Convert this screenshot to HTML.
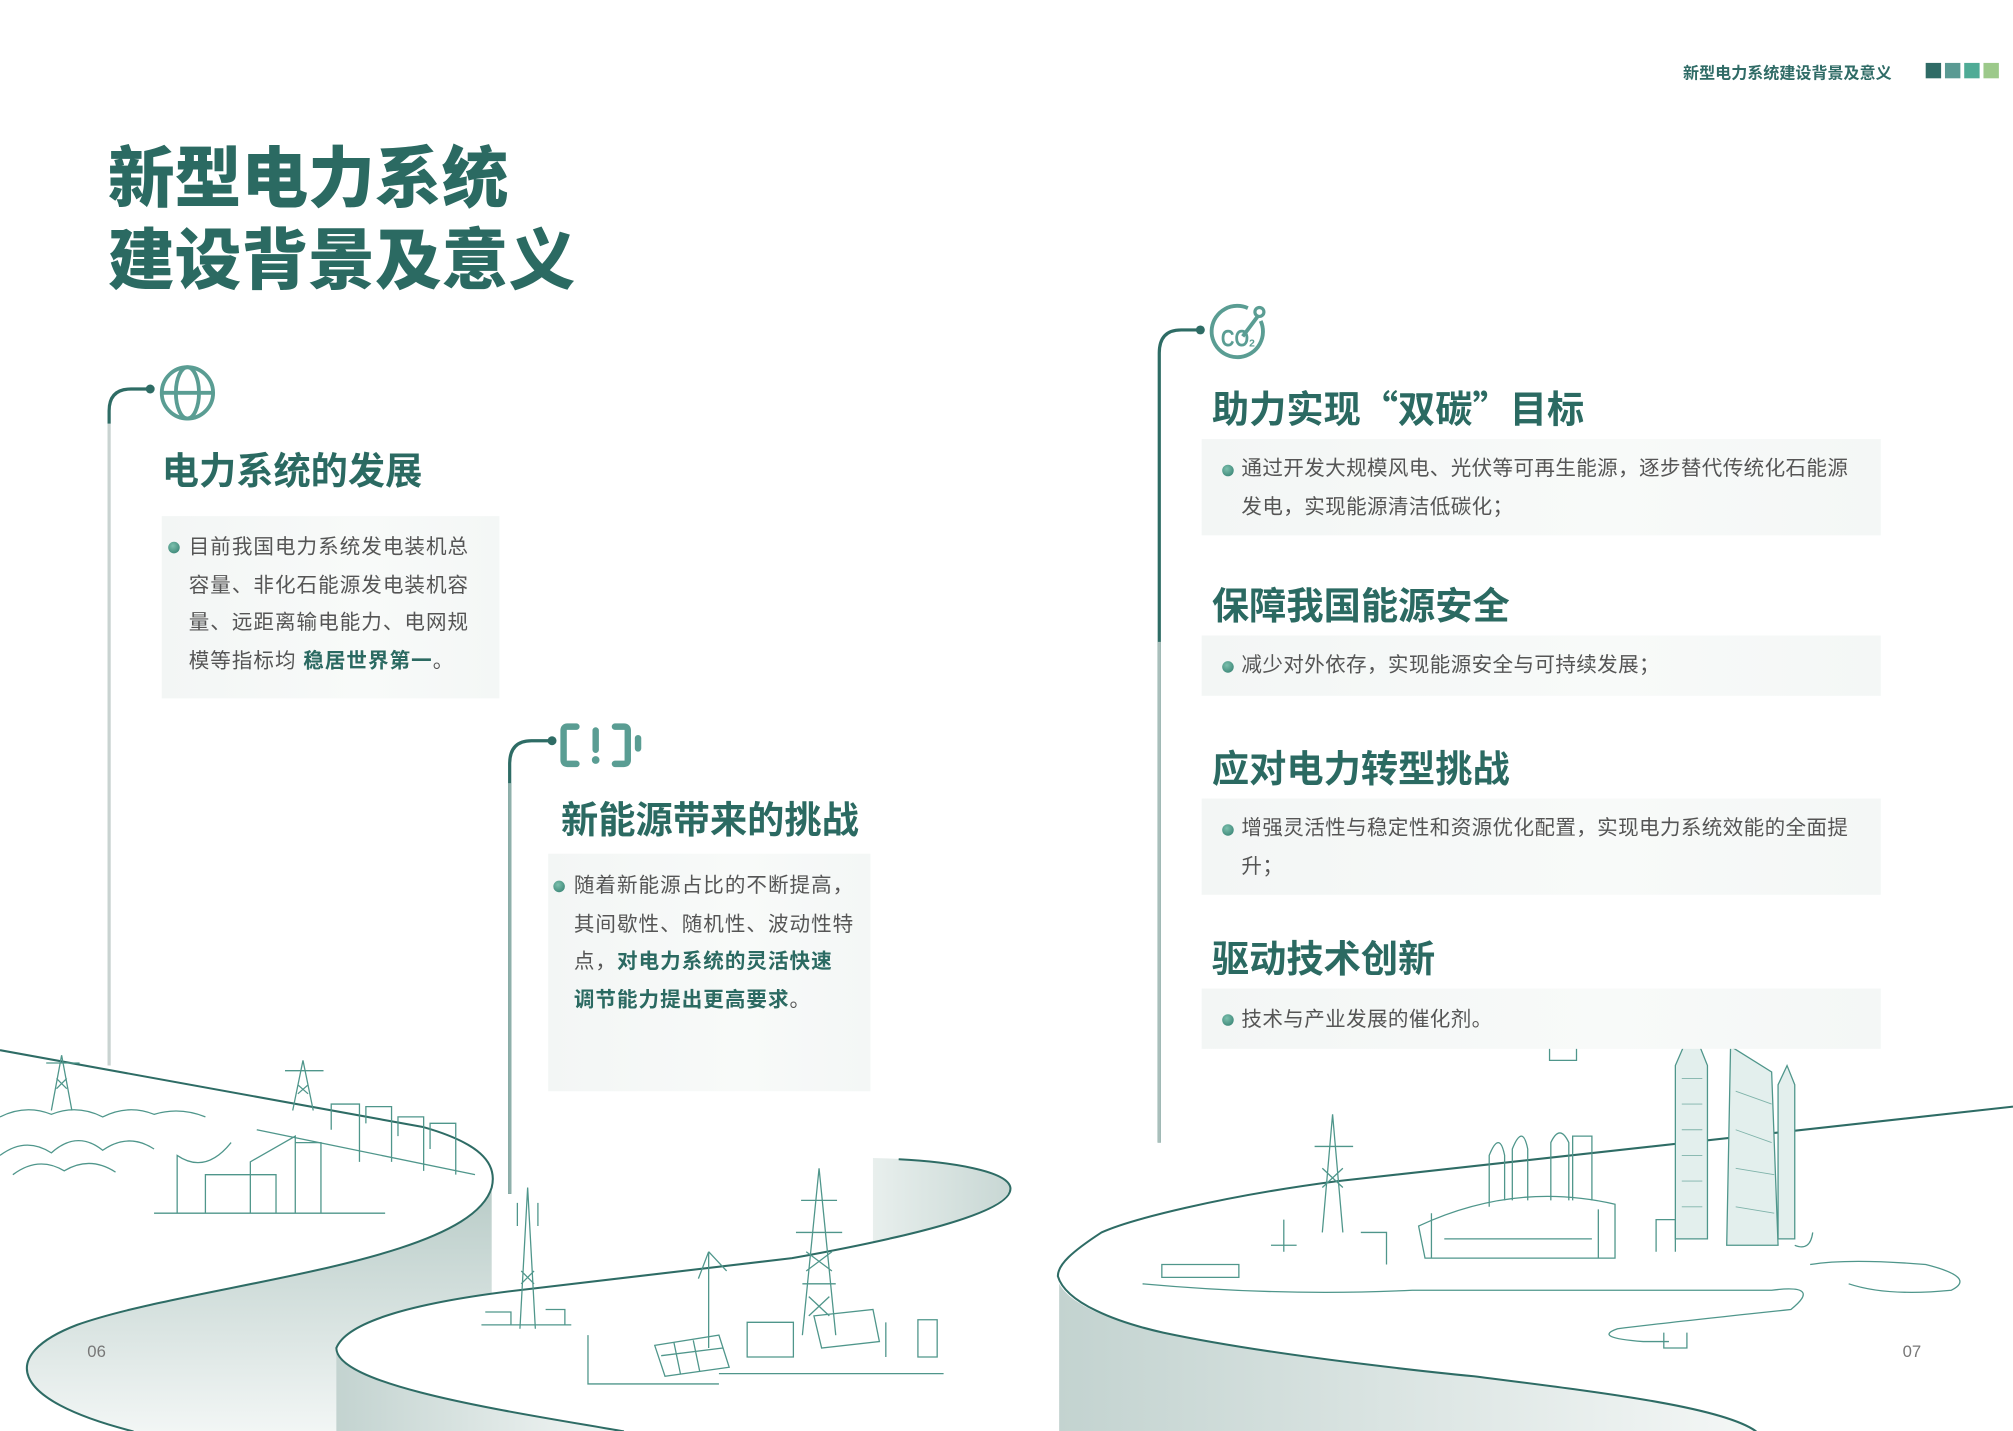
<!DOCTYPE html>
<html><head><meta charset="utf-8">
<style>
html,body{margin:0;padding:0;background:#fff;}
body{width:2013px;height:1431px;overflow:hidden;position:relative;}
#w{position:absolute;left:0;top:0;width:1568px;height:1115px;transform:scale(1.28380);transform-origin:0 0;font-family:"Liberation Sans","Noto Sans CJK SC",sans-serif;}
.a{position:absolute;white-space:nowrap;}
.t{color:#2b6a62;font-weight:900;}
.h{color:#2b6a62;font-weight:bold;font-size:29px;line-height:36px;font-family:"Noto Sans CJK SC",sans-serif;}
.box{position:absolute;background:linear-gradient(90deg,#f3f6f5,#f8faf9 60%,#f4f7f6);}
.p{position:absolute;font-size:16px;color:#555;letter-spacing:0.8px;line-height:29.5px;white-space:nowrap;}
.r{letter-spacing:0.3px;}
.p b{color:#2b6a62;}
.dot{position:absolute;width:9px;height:9px;border-radius:50%;background:radial-gradient(circle at 40% 35%,#7cc0ad,#2e7a6c);}
</style></head><body><div id="w">
<svg width="1568" height="1115" style="position:absolute;left:0;top:0">
<defs>
<linearGradient id="g1" x1="0" y1="0" x2="0" y2="1"><stop offset="0" stop-color="#b9ccc8"/><stop offset="1" stop-color="#f2f6f5"/></linearGradient>
<linearGradient id="g2" x1="0" y1="0" x2="1" y2="0"><stop offset="0" stop-color="#c3d3d0"/><stop offset="1" stop-color="#f4f7f6"/></linearGradient>
<linearGradient id="g3" x1="0" y1="0" x2="1" y2="0"><stop offset="0" stop-color="#e8efed"/><stop offset="1" stop-color="#c8d7d4"/></linearGradient>
</defs>
<path d="M85,330 V830" stroke="#c9d3d1" stroke-width="2.5"/>
<path d="M85,330 V320 Q85,303 102,303 H117" fill="none" stroke="#2e6c65" stroke-width="2.5"/>
<circle cx="117" cy="303" r="3.5" fill="#2e6c65"/>
<path d="M397,930 V595 Q397,577 414,577 H430" fill="none" stroke="#2e6c65" stroke-width="2.5"/>
<path d="M397,610 V930" stroke="#8fb0ab" stroke-width="2.5"/>
<circle cx="430" cy="577" r="3.5" fill="#2e6c65"/>
<path d="M903,890 V275 Q903,257 920,257 H935" fill="none" stroke="#2e6c65" stroke-width="2.5"/>
<path d="M903,500 V890" stroke="#a9bfbb" stroke-width="2.5"/>
<circle cx="935" cy="257" r="3.5" fill="#2e6c65"/>
<g fill="none" stroke="#5a9d93" stroke-width="3"><circle cx="146" cy="306" r="20"/><ellipse cx="146" cy="306" rx="9" ry="20"/><path d="M126,306 H166"/></g>
<g fill="none" stroke="#5a9d93" stroke-width="5" stroke-linecap="round">
<path d="M449,566 H442 Q439,566 439,569 V592 Q439,595 442,595 H449"/>
<path d="M479,566 H486 Q489,566 489,569 V592 Q489,595 486,595 H479"/>
<path d="M464,569 V584"/><path d="M497,575 V583"/></g>
<circle cx="464" cy="592" r="3" fill="#5a9d93"/>
<g fill="none" stroke="#5a9d93" stroke-width="3"><path d="M982,250 A20,20 0 1 1 972,240"/></g>
<text x="951" y="270" font-family="Liberation Sans Narrow, Liberation Sans" font-weight="bold" font-size="19" fill="#5a9d93" textLength="22" lengthAdjust="spacingAndGlyphs">CO</text>
<text x="973" y="270" font-family="Liberation Sans" font-weight="bold" font-size="8" fill="#5a9d93">2</text>
<path d="M968,262 L980,246" stroke="#5a9d93" stroke-width="3"/>
<circle cx="981" cy="243" r="3.5" fill="none" stroke="#5a9d93" stroke-width="2.5"/>

<path d="M383,925 C365,985 150,1000 60,1032 C0,1055 5,1090 104,1115 L383,1115 Z" fill="url(#g1)"/>
<path d="M262,1050 C270,1030 320,1015 404,1005 L617,980 C700,965 790,945 787,925 L825,925 L825,1115 L486,1115 C400,1100 262,1080 262,1050 Z" fill="#fff"/>
<path d="M262,1050 C262,1080 400,1100 486,1115 L262,1115 Z" fill="url(#g2)"/>
<path d="M680,902 C730,903 787,910 787,925 C785,945 700,965 680,968 Z" fill="url(#g3)"/>
<g fill="none" stroke="#2e6c65" stroke-width="1.6">
<path d="M0,818 L330,878 C372,890 388,905 383,925 C365,985 150,1000 60,1032 C0,1055 5,1090 104,1115"/>
<path d="M486,1115 C400,1100 262,1080 262,1050 C270,1030 320,1015 404,1005 L617,980 C700,965 790,945 787,925 C785,912 740,905 700,903"/>
</g>
<path d="M825,1000 C835,1018 870,1030 906,1038 C1000,1058 1148,1072 1148,1072 C1250,1085 1342,1096 1368,1115 L825,1115 Z" fill="url(#g2)"/>
<path d="M1568,862 L1042,920 C950,932 880,950 858,960 C835,975 824,985 824,994 C830,1015 870,1030 906,1038 C1000,1058 1148,1072 1148,1072 C1250,1085 1342,1096 1368,1115" fill="none" stroke="#2e6c65" stroke-width="1.6"/>

<g fill="none" stroke="#4f968b" stroke-width="1">
<path d="M40,865 L48,822 L56,865 M44,840 L52,848 M52,840 L44,848 M36,828 H62"/>
<path d="M228,865 L236,826 L244,865 M232,845 L240,852 M240,845 L232,852 M222,834 H252"/>
<path d="M0,870 Q20,860 40,868 Q60,860 80,870 Q100,860 120,868 Q140,862 160,870 M0,900 Q20,885 40,898 Q60,880 80,896 Q100,882 120,895 M10,915 Q30,900 50,912 Q70,900 90,913"/>
<path d="M138,945 V900 Q160,915 180,890 M160,945 V915 H215 V945 M195,945 V905 L230,885 V945 M230,945 V890 H250 V945 M120,945 H300"/>
<path d="M258,880 V860 H280 V905 M285,875 V862 H305 V905 M310,885 V870 H330 V912 M335,895 V875 H355 V915 M200,880 L370,915"/>
<path d="M405,1035 L411,925 L417,1035 M406,990 L416,1000 M416,990 L406,1000 M403,937 V955 M419,937 V955"/>
<path d="M625,1040 L638,910 L651,1040 M624,935 H652 M620,960 H656 M625,1000 H651 M628,975 L648,990 M648,975 L628,990 M630,1010 L646,1025 M646,1010 L630,1025"/>
<path d="M552,1050 V975 M552,975 L544,996 M552,975 L566,990"/>
<path d="M510,1048 L560,1040 L568,1065 L518,1072 Z M515,1056 L563,1050 M525,1046 L530,1070 M540,1044 L545,1068"/>
<path d="M582,1030 H618 V1057 H582 Z M634,1025 L680,1020 L685,1045 L640,1050 Z M690,1030 V1057 M715,1028 H730 V1057 H715 Z"/>
<path d="M375,1032 H445 M378,1022 H398 V1032 M425,1020 H440 V1032 M458,1040 V1078 H560 M560,1070 H735"/>
<path d="M1030,960 L1038,868 L1046,960 M1024,893 H1054 M1030,910 L1046,925 M1046,910 L1030,925"/>
<path d="M1105,955 Q1180,920 1258,938 V980 H1110 Z M1115,945 V980 M1245,942 V980 M1125,965 H1240"/>
<path d="M1160,940 V900 Q1168,880 1172,900 V935 M1178,935 V895 Q1186,875 1190,895 V935 M1208,935 V890 Q1215,875 1222,890 V935 M1225,935 V885 H1240 V935"/>
<path d="M1290,975 V950 H1305 V975 M1398,970 Q1410,975 1412,960"/>
<path d="M905,985 H965 V995 H905 Z M990,970 H1010 M1000,950 V975 M1060,960 H1080 V985 M890,1000 Q1000,1010 1100,1005 H1380 Q1420,1000 1395,1020 Q1300,1030 1260,1035 Q1240,1042 1280,1045 H1300 M1410,985 Q1440,980 1500,985 Q1540,995 1520,1005 Q1470,1010 1440,1000"/>
<path d="M1296,1038 V1050 H1314 V1038"/>
<path d="M1185,797 H1250 M1195,791 V803 M1240,791 V803 M1205,797 V808 H1230 V797 M1207,813 H1228 V826 H1207 Z"/>
</g>
<g stroke="#4f968b" stroke-width="1" fill="#e3efed">
<path d="M1305,965 V830 L1318,800 L1330,830 V965 Z"/>
<path d="M1345,970 L1348,815 L1380,835 L1385,970 Z"/>
<path d="M1385,965 V845 L1392,830 L1398,845 V965 Z"/>
</g>
<g stroke="#7fb3aa" stroke-width="0.7"><path d="M1310,840 H1326 M1310,860 H1326 M1310,880 H1326 M1310,900 H1326 M1310,920 H1326 M1310,940 H1326 M1352,850 L1380,860 M1352,880 L1380,890 M1352,910 L1382,915 M1352,940 L1382,945"/></g>
</svg>

<div class="a" style="left:1311px;top:46px;font-size:12.5px;font-weight:bold;color:#2f6b66;">新型电力系统建设背景及意义</div>
<div class="a" style="left:1500px;top:49px;width:12px;height:12px;background:#2f6b66"></div>
<div class="a" style="left:1515px;top:49px;width:12px;height:12px;background:#5a9a93"></div>
<div class="a" style="left:1530px;top:49px;width:12px;height:12px;background:#4fab96"></div>
<div class="a" style="left:1545px;top:49px;width:12px;height:12px;background:#9cc98a"></div>

<div class="a t" style="left:84px;top:108px;font-size:52px;line-height:64px;">新型电力系统<br>建设背景及意义</div>

<div class="a h" style="left:126px;top:347px;">电力系统的发展</div>
<div class="box" style="left:126px;top:402px;width:263px;height:142px;"></div>
<div class="dot" style="left:131px;top:422px;"></div>
<div class="p" style="left:147px;top:412px;">目前我国电力系统发电装机总<br>容量、非化石能源发电装机容<br>量、远距离输电能力、电网规<br>模等指标均 <b>稳居世界第一</b>。</div>

<div class="a h" style="left:437px;top:619px;">新能源带来的挑战</div>
<div class="box" style="left:427px;top:665px;width:251px;height:185px;"></div>
<div class="dot" style="left:431px;top:686px;"></div>
<div class="p" style="left:447px;top:676px;">随着新能源占比的不断提高，<br>其间歇性、随机性、波动性特<br>点，<b>对电力系统的灵活快速</b><br><b>调节能力提出更高要求</b>。</div>

<div class="a h" style="left:944px;top:299px;">助力实现“双碳”目标</div>
<div class="box" style="left:936px;top:342px;width:529px;height:75px;"></div>
<div class="dot" style="left:952px;top:362px;"></div>
<div class="p r" style="left:967px;top:351px;">通过开发大规模风电、光伏等可再生能源，逐步替代传统化石能源<br>发电，实现能源清洁低碳化；</div>

<div class="a h" style="left:944px;top:452px;">保障我国能源安全</div>
<div class="box" style="left:936px;top:495px;width:529px;height:47px;"></div>
<div class="dot" style="left:952px;top:515px;"></div>
<div class="p r" style="left:967px;top:504px;">减少对外依存，实现能源安全与可持续发展；</div>

<div class="a h" style="left:944px;top:579px;">应对电力转型挑战</div>
<div class="box" style="left:936px;top:622px;width:529px;height:75px;"></div>
<div class="dot" style="left:952px;top:642px;"></div>
<div class="p r" style="left:967px;top:631px;">增强灵活性与稳定性和资源优化配置，实现电力系统效能的全面提<br>升；</div>

<div class="a h" style="left:944px;top:727px;">驱动技术创新</div>
<div class="box" style="left:936px;top:770px;width:529px;height:47px;"></div>
<div class="dot" style="left:952px;top:790px;"></div>
<div class="p r" style="left:967px;top:780px;">技术与产业发展的催化剂。</div>

<div class="a" style="left:68px;top:1045px;font-size:13px;color:#777;">06</div>
<div class="a" style="left:1482px;top:1045px;font-size:13px;color:#777;">07</div>
</div></body></html>
